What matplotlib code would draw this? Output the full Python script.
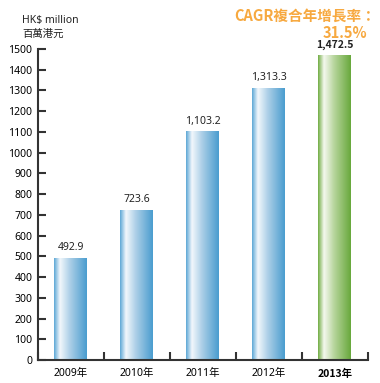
import numpy as np
import matplotlib
matplotlib.use('Agg')
import matplotlib.pyplot as plt
from matplotlib.colors import LinearSegmentedColormap

plt.rcParams['font.family'] = ['Noto Sans', 'Noto Sans CJK TC', 'DejaVu Sans']
BOLD_FAMILY = ['Noto Sans CJK TC', 'DejaVu Sans']

years = ['2009年', '2010年', '2011年', '2012年', '2013年']
values = [492.9, 723.6, 1103.2, 1313.3, 1472.5]
labels = ['492.9', '723.6', '1,103.2', '1,313.3', '1,472.5']
yticks = list(range(0, 1501, 100))

blue = LinearSegmentedColormap.from_list(
    'b', [(0, '#5ea8d6'), (0.18, '#f2f7fc'), (0.5, '#a9cde6'), (1, '#4a9dcf')])
green = LinearSegmentedColormap.from_list(
    'g', [(0, '#72ad45'), (0.18, '#f4f8ee'), (0.5, '#b5d49a'), (1, '#68a83c')])

fig = plt.figure(figsize=(3.8, 3.83), dpi=100)
ax = fig.add_axes([0.1, 0.06, 0.868, 0.812])

x = np.arange(len(years))
bars = ax.bar(x, values, width=0.5, color='none', edgecolor='none')
grad = np.linspace(0, 1, 200).reshape(1, -1)
for i, b in enumerate(bars):
    last = i == len(bars) - 1
    cm = green if last else blue
    im = ax.imshow(grad, cmap=cm, aspect='auto',
                   extent=[b.get_x(), b.get_x() + b.get_width(), 0, b.get_height()],
                   zorder=2)
    im.set_clip_path(b)
    if last:
        ax.text(b.get_x() + b.get_width() / 2, b.get_height() + 22, labels[i],
                ha='center', va='bottom', fontsize=7.5, color='#222222',
                fontweight='bold', family=BOLD_FAMILY)
    else:
        ax.text(b.get_x() + b.get_width() / 2, b.get_height() + 22, labels[i],
                ha='center', va='bottom', fontsize=7.5, color='#222222')

ax.set_xlim(-0.5, 4.5)
ax.set_ylim(0, 1500)
ax.set_yticks(yticks)
ax.set_xticks(x)
ax.set_xticklabels(years, fontsize=7.5)
ax.get_xticklabels()[-1].set_fontweight('bold')
ax.get_xticklabels()[-1].set_family(BOLD_FAMILY)
ax.set_xticks(np.arange(-0.5, 5, 1), minor=True)
ax.tick_params(axis='x', which='major', length=0, pad=6)
ax.tick_params(axis='x', which='minor', direction='in', length=6, width=1.5, color='#333333')
ax.tick_params(axis='y', direction='in', length=6, width=1.5, color='#333333',
               labelsize=7.5, pad=4)
for s in ['top', 'right']:
    ax.spines[s].set_visible(False)
for s in ['left', 'bottom']:
    ax.spines[s].set_linewidth(1.5)
    ax.spines[s].set_color('#333333')

fig.text(22 / 380, 1 - 20 / 383, 'HK$ million', fontsize=7.5, color='#222222', va='center')
fig.text(22 / 380, 1 - 34 / 383, '百萬港元', fontsize=7.5, color='#222222', va='center')
fig.text(376 / 380, 1 - 16 / 383, 'CAGR複合年增長率：', fontsize=10.5, color='#f7a940',
         fontweight='bold', ha='right', va='center', family=BOLD_FAMILY)
fig.text(367 / 380, 1 - 33 / 383, '31.5%', fontsize=10.5, color='#f7a940',
         fontweight='bold', ha='right', va='center', family=BOLD_FAMILY)

fig.savefig('out.png', dpi=100)
